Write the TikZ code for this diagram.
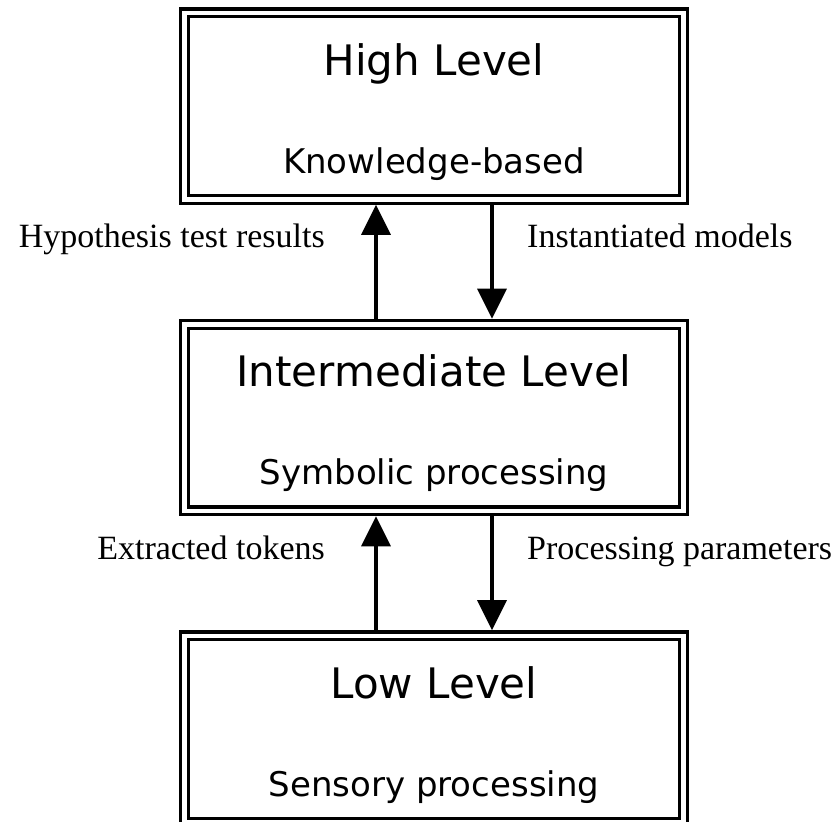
\documentclass[tikz,border=0pt]{standalone}
\usepackage{fontspec}
\usetikzlibrary{arrows.meta}
\newfontfamily\boxfont{DejaVu Sans}
\newfontfamily\lblfont{Liberation Serif}

\begin{document}
\begin{tikzpicture}[x=1pt,y=1pt,
    levelbox/.style={draw, line width=3.3pt, double, double distance=4.5pt,
        minimum width=499pt, minimum height=186.5pt, outer sep=5.55pt, inner sep=0pt},
    leveltitle/.style={font=\boxfont\fontsize{42}{50}\selectfont, inner sep=0pt, anchor=base},
    levelsub/.style={font=\boxfont\fontsize{34}{41}\selectfont, inner sep=0pt, anchor=base},
    flow/.style={line width=3.5pt, -{Triangle[length=30pt,width=29pt]}},
    flowlabel/.style={font=\lblfont\fontsize{34}{40}\selectfont, inner sep=0pt}]
    \useasboundingbox (0,0) rectangle (836,-822);

    % the three levels
    \node[levelbox] (hl) at (434,-106) {};
    \node[levelbox] (il) at (434,-417.5) {};
    \node[levelbox] (ll) at (434,-729) {};

    \node[leveltitle] (hltitle) at ([yshift=31pt]hl.center) {High Level};
    \node[levelsub] (hlsub) at ([yshift=-67pt]hl.center) {Knowledge-based};
    \node[leveltitle] (iltitle) at ([yshift=31pt]il.center) {Intermediate Level};
    \node[levelsub] (ilsub) at ([yshift=-67pt]il.center) {Symbolic processing};
    \node[leveltitle] (lltitle) at ([yshift=31pt]ll.center) {Low Level};
    \node[levelsub] (llsub) at ([yshift=-67pt]ll.center) {Sensory processing};

    % flows between levels
    \draw[flow] ([xshift=-58pt]il.north) -- ([xshift=-58pt]hl.south);
    \draw[flow] ([xshift=58pt]hl.south) -- ([xshift=58pt]il.north);
    \draw[flow] ([xshift=-58pt]ll.north) -- ([xshift=-58pt]il.south);
    \draw[flow] ([xshift=58pt]il.south) -- ([xshift=58pt]ll.north);

    \node[flowlabel, anchor=base east] (hyp) at ([xshift=-109pt,yshift=-43pt]hl.south) {Hypothesis test results};
    \node[flowlabel, anchor=base west] (inst) at ([xshift=93pt,yshift=-43pt]hl.south) {Instantiated models};
    \node[flowlabel, anchor=base east] (tok) at ([xshift=-109pt,yshift=-43pt]il.south) {Extracted tokens};
    \node[flowlabel, anchor=base west] (par) at ([xshift=93pt,yshift=-43pt]il.south) {Processing parameters};
\end{tikzpicture}
\end{document}
